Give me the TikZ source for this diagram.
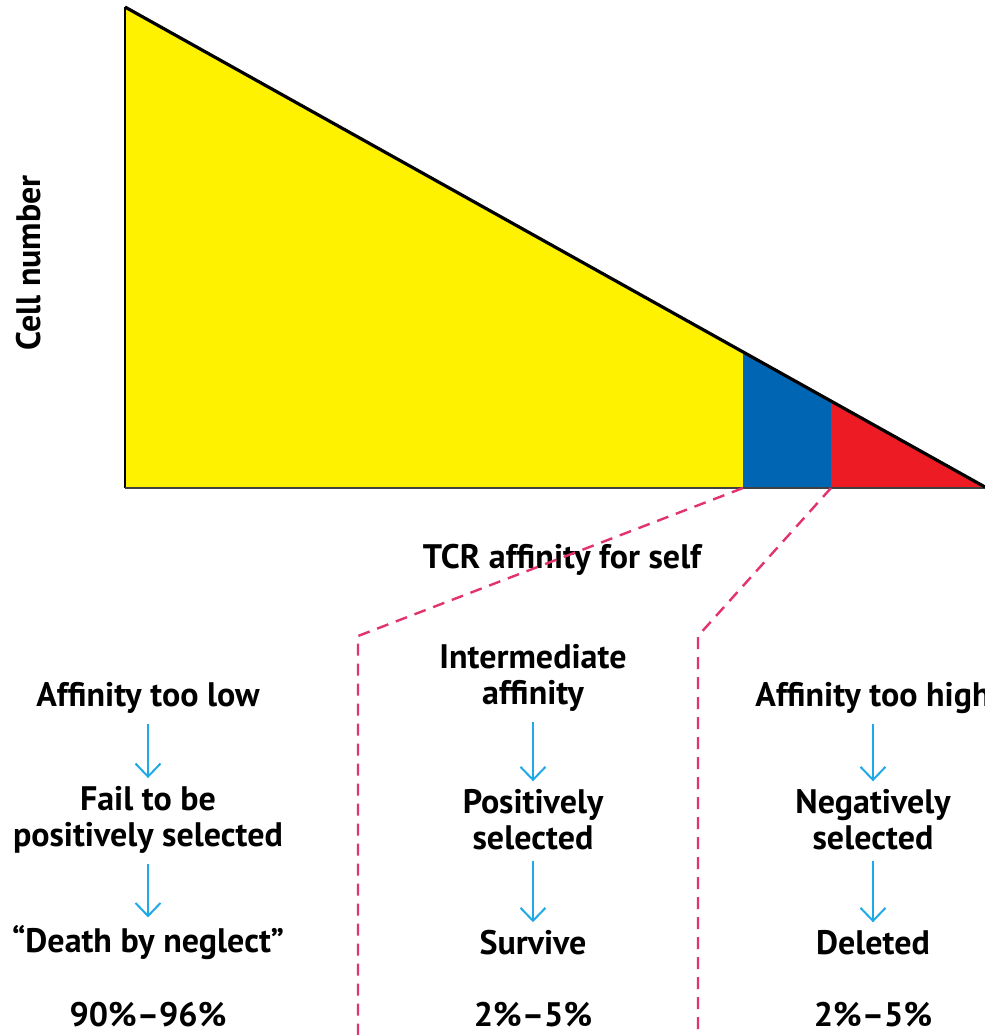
\documentclass[tikz,border=0pt]{standalone}
\usepackage{fontspec}
\setmainfont{PT Sans}
\usetikzlibrary{arrows.meta}
\definecolor{lowyellow}{HTML}{FFF200}
\definecolor{midblue}{HTML}{0066B3}
\definecolor{highred}{HTML}{ED1C24}
\definecolor{cutpink}{HTML}{E2336A}
\definecolor{stepblue}{HTML}{1FA9E6}
\tikzset{
  lbl/.style={font=\bfseries\fontsize{17}{18}\selectfont, align=center, inner sep=1pt},
  cutline/.style={draw=cutpink, line width=1.2pt, dash pattern=on 6pt off 4pt},
  flow/.style={draw=stepblue, line width=1pt, -{Straight Barb[length=6.5pt,width=12.5pt]}, shorten <=4pt, shorten >=3pt}
}
\begin{document}
\begin{tikzpicture}[x=0.5pt,y=-0.5pt]
			%%%%% AXES AND TRIANGLE %%%%%
			\useasboundingbox (0,0) rectangle (985,1035);
			
			\coordinate (apex) at (125,7);
			\coordinate (origin) at (125,488);
			\coordinate (tip) at (985,487);
			\coordinate (blueleft) at (743,488);
			\coordinate (redleft) at (831,488);
			
			\begin{scope}
			\clip (apex) -- (origin) -- (tip) -- cycle;
			\fill[lowyellow] (100,0) rectangle (743,490);
			\fill[midblue] (743,0) rectangle (831,490);
			\fill[highred] (831,0) rectangle (990,490);
			\end{scope}
			
			\draw[line width=0.6pt] (apex) -- (origin);
			\draw[line width=1pt, color=black!75] (origin) -- (985,488);
			\draw[line width=1.6pt] (apex) -- (tip);
			
			\node[lbl, rotate=90] (ylabel) at (29,263) {Cell number};
			\node[lbl] (xlabel) at (562,560) {TCR affinity for self};
			
			%%%%% DASHED CUTS %%%%%
			\coordinate (leftbend) at (358,636);
			\coordinate (rightbend) at (698,636);
			\draw[cutline] (blueleft) -- (leftbend) -- (358,1035);
			\draw[cutline] (redleft) -- (rightbend) -- (698,1035);
			
			%%%%% COLUMNS %%%%%
			\node[lbl] (low) at (148,698) {Affinity too low};
			\node[lbl] (fail) at (148,820) {Fail to be\\positively selected};
			\node[lbl] (neglect) at (148,943) {“Death by neglect”};
			\node[lbl] (lowpct) at (148,1015) {90\%–96\%};
			
			\node[lbl] (mid) at (533,678) {Intermediate\\affinity};
			\node[lbl] (pos) at (533,820) {Positively\\selected};
			\node[lbl] (survive) at (533,943) {Survive};
			\node[lbl] (midpct) at (533,1015) {2\%–5\%};
			
			\node[lbl] (high) at (873,698) {Affinity too high};
			\node[lbl] (neg) at (873,820) {Negatively\\selected};
			\node[lbl] (deleted) at (873,943) {Deleted};
			\node[lbl] (highpct) at (873,1015) {2\%–5\%};
			
			\draw[flow] (low) -- (fail);
			\draw[flow] (fail) -- (neglect);
			\draw[flow] (mid) -- (pos);
			\draw[flow] (pos) -- (survive);
			\draw[flow] (high) -- (neg);
			\draw[flow] (neg) -- (deleted);
			
			%%%%% END %%%%%
\end{tikzpicture}
\end{document}
